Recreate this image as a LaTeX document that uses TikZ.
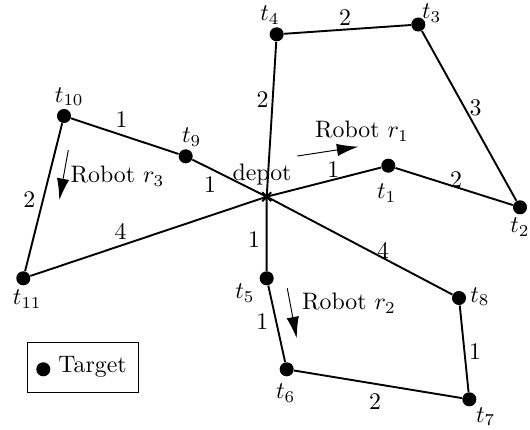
\documentclass[tikz,border=0pt]{standalone}
\usetikzlibrary{arrows.meta}
\begin{document}
\begin{tikzpicture}[x=0.42pt,y=-0.42pt,
  target/.style={circle,fill=black,inner sep=0pt,minimum size=5.9pt},
  edge/.style={line width=0.8pt},
  robotarrow/.style={line width=0.4pt,-{Latex[length=9pt,width=5.2pt]}},
  lbl/.style={inner sep=0pt}]
\useasboundingbox (0,0) rectangle (530,429);
% nodes
\coordinate (D) at (266.7,196.7);
\node[target] (t1) at (388.3,165.7) {};
\node[target] (t2) at (520,207.3) {};
\node[target] (t3) at (418.3,24.5) {};
\node[target] (t4) at (276.7,34.3) {};
\node[target] (t5) at (266.7,278.3) {};
\node[target] (t6) at (286.7,369.3) {};
\node[target] (t7) at (469.3,399.3) {};
\node[target] (t8) at (459,298) {};
\node[target] (t9) at (185.7,156.3) {};
\node[target] (t10) at (64,116) {};
\node[target] (t11) at (23.3,278.3) {};
% edges
\draw[edge] (D) -- (t4) -- (t3) -- (t2) -- (t1) -- (D);
\draw[edge] (D) -- (t5) -- (t6) -- (t7) -- (t8) -- (D);
\draw[edge] (D) -- (t9) -- (t10) -- (t11) -- (D);
% depot mark
\draw[line width=0.8pt] ([shift={(-4.5,-4.5)}]D) -- ([shift={(4.5,4.5)}]D);
\draw[line width=0.8pt] ([shift={(-4.5,4.5)}]D) -- ([shift={(4.5,-4.5)}]D);
\node[lbl] (dl) at (262,175) {depot};
% node labels
\node[lbl] (l1) at (386.7,193) {$t_1$};
\node[lbl] (l2) at (520,227) {$t_2$};
\node[lbl] (l3) at (431.7,13.3) {$t_3$};
\node[lbl] (l4) at (270,15) {$t_4$};
\node[lbl] (l5) at (245,293.3) {$t_5$};
\node[lbl] (l6) at (285.7,393.3) {$t_6$};
\node[lbl] (l7) at (485.7,416.7) {$t_7$};
\node[lbl] (l8) at (480,296.7) {$t_8$};
\node[lbl] (l9) at (191.7,137) {$t_9$};
\node[lbl] (l10) at (69.3,96.7) {$t_{10}$};
\node[lbl] (l11) at (27.3,299.3) {$t_{11}$};
% edge weights
\node[lbl] (w43) at (345,18) {2};
\node[lbl] (w32) at (475.7,108.3) {3};
\node[lbl] (w4d) at (262.7,99.3) {2};
\node[lbl] (wd1) at (333.3,170) {1};
\node[lbl] (w12) at (456,180) {2};
\node[lbl] (w109) at (121.7,120) {1};
\node[lbl] (w1011) at (29.3,200) {2};
\node[lbl] (w9d) at (210,185) {1};
\node[lbl] (w11d) at (120.7,231.7) {4};
\node[lbl] (wd5) at (254,240) {1};
\node[lbl] (wd8) at (383,250) {4};
\node[lbl] (w56) at (262.3,321.7) {1};
\node[lbl] (w87) at (475,351.7) {1};
\node[lbl] (w67) at (375,401.7) {2};
% robots
\node[lbl] (r1) at (362,131) {Robot $r_1$};
\coordinate (r1a) at (297.3,156);
\coordinate (r1b) at (358.3,146.7);
\draw[robotarrow] (r1a) -- (r1b);
\node[lbl] (r2) at (349,303) {Robot $r_2$};
\coordinate (r2a) at (287.3,288.3);
\coordinate (r2b) at (296.7,338.3);
\draw[robotarrow] (r2a) -- (r2b);
\node[lbl] (r3) at (117.5,176) {Robot $r_3$};
\coordinate (r3a) at (68.3,150);
\coordinate (r3b) at (59.3,200);
\draw[robotarrow] (r3a) -- (r3b);
% legend
\draw[line width=0.4pt] (27.3,342.7) rectangle (138.3,392.7);
\node[target] (ld) at (43.3,369.3) {};
\node[lbl,anchor=west] (lt) at (58,367) {Target};
\end{tikzpicture}
\end{document}
